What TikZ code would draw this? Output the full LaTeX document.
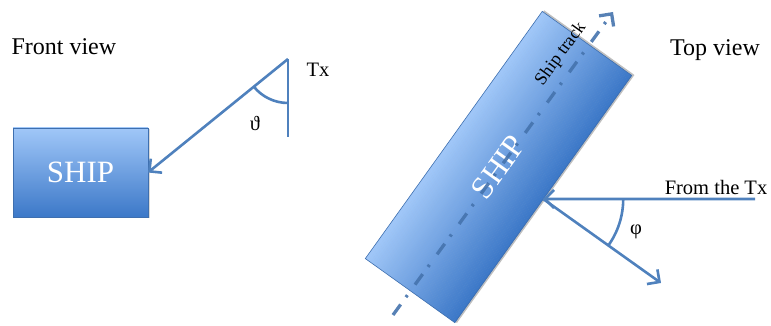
\documentclass[tikz,border=0pt]{standalone}
\usepackage{fontspec}
\setmainfont{Liberation Serif}
\usetikzlibrary{arrows.meta, shadows, calc, positioning}
\definecolor{rayblue}{HTML}{4F81BD}
\definecolor{trackblue}{HTML}{4573AD}
\definecolor{shiplight}{HTML}{A0C7F8}
\definecolor{shipdark}{HTML}{3C78C8}
\definecolor{shipedge}{HTML}{3E6FAF}

\begin{document}
\begin{tikzpicture}[
    x=1pt, y=1pt, >={Straight Barb[length=9pt,width=18pt]},
    ray/.style={draw=rayblue, line width=2.6pt},
    ship/.style={draw=shipedge, line width=0.6pt, outer sep=0pt, text=white},
    viewtext/.style={font=\fontsize{24}{24}\selectfont},
    smalltext/.style={font=\fontsize{20.5}{20.5}\selectfont}
]
\useasboundingbox (0,0) rectangle (771,326);
% front view
\node (front_label) [viewtext, anchor=west] at (8,279) {Front view};
\node (front_ship) [ship, top color=shiplight, bottom color=shipdark, drop shadow={opacity=0.3, shadow xshift=1.5pt, shadow yshift=-1.5pt}, minimum width=135pt, minimum height=89pt, font=\fontsize{31}{31}\selectfont] at (80.5,153.5) {SHIP};
\coordinate (tx_front) at (288,267);
\coordinate (tx_base) at (288,189);
\node (tx_label) [smalltext, anchor=west] at (303,256) {Tx};
\draw[ray] (tx_base) -- (tx_front);
\draw[ray, ->] (tx_front) -- (front_ship.east);
\draw[ray] ($(tx_front)+(218.9:44)$) arc[start angle=218.9, end angle=270, radius=44];
\node (theta_label) [smalltext] at (255,203) {ϑ};
% top view
\coordinate (top_centre) at (498.5,159);
\begin{scope}[shift={(top_centre)}, rotate=54.4]
  \fill[black, opacity=0.25] (-151,-57) rectangle (154,54);
  \foreach \k in {0,...,54} {
    \pgfmathtruncatemacro{\mix}{100*\k/54}
    \fill[shipdark!\mix!shiplight] (-152,55-2*\k) rectangle (152,52.7-2*\k);
  }
\end{scope}
\node (top_ship) [ship, rotate=54.4, minimum width=304pt, minimum height=110pt, font=\fontsize{32}{32}\selectfont] at (top_centre) {SHIP};
\node (top_label) [viewtext] at (715,276) {Top view};
\coordinate (track_start) at (393,11);
\coordinate (track_end) at (613,314);
\draw[draw=trackblue, draw opacity=0.9, line width=3.3pt, dash pattern=on 13pt off 9pt on 2.5pt off 13pt, ->] (track_start) -- (track_end);
\node (track_label) [rotate=54, font=\fontsize{18}{18}\selectfont] at (561,272) {Ship track};
\coordinate (tx_far) at (755,127);
\coordinate (scatter_end) at (661,43);
\node (from_label) [smalltext] at (716,139) {From the Tx};
\draw[ray, ->] (tx_far) -- (top_ship.south);
\draw[ray, ->] (top_ship.south) -- (scatter_end);
\draw[ray] ($(top_ship.south)+(0:80)$) arc[start angle=0, end angle=-35.6, radius=80];
\node (phi_label) [smalltext] at (636,94) {φ};
\end{tikzpicture}
\end{document}
